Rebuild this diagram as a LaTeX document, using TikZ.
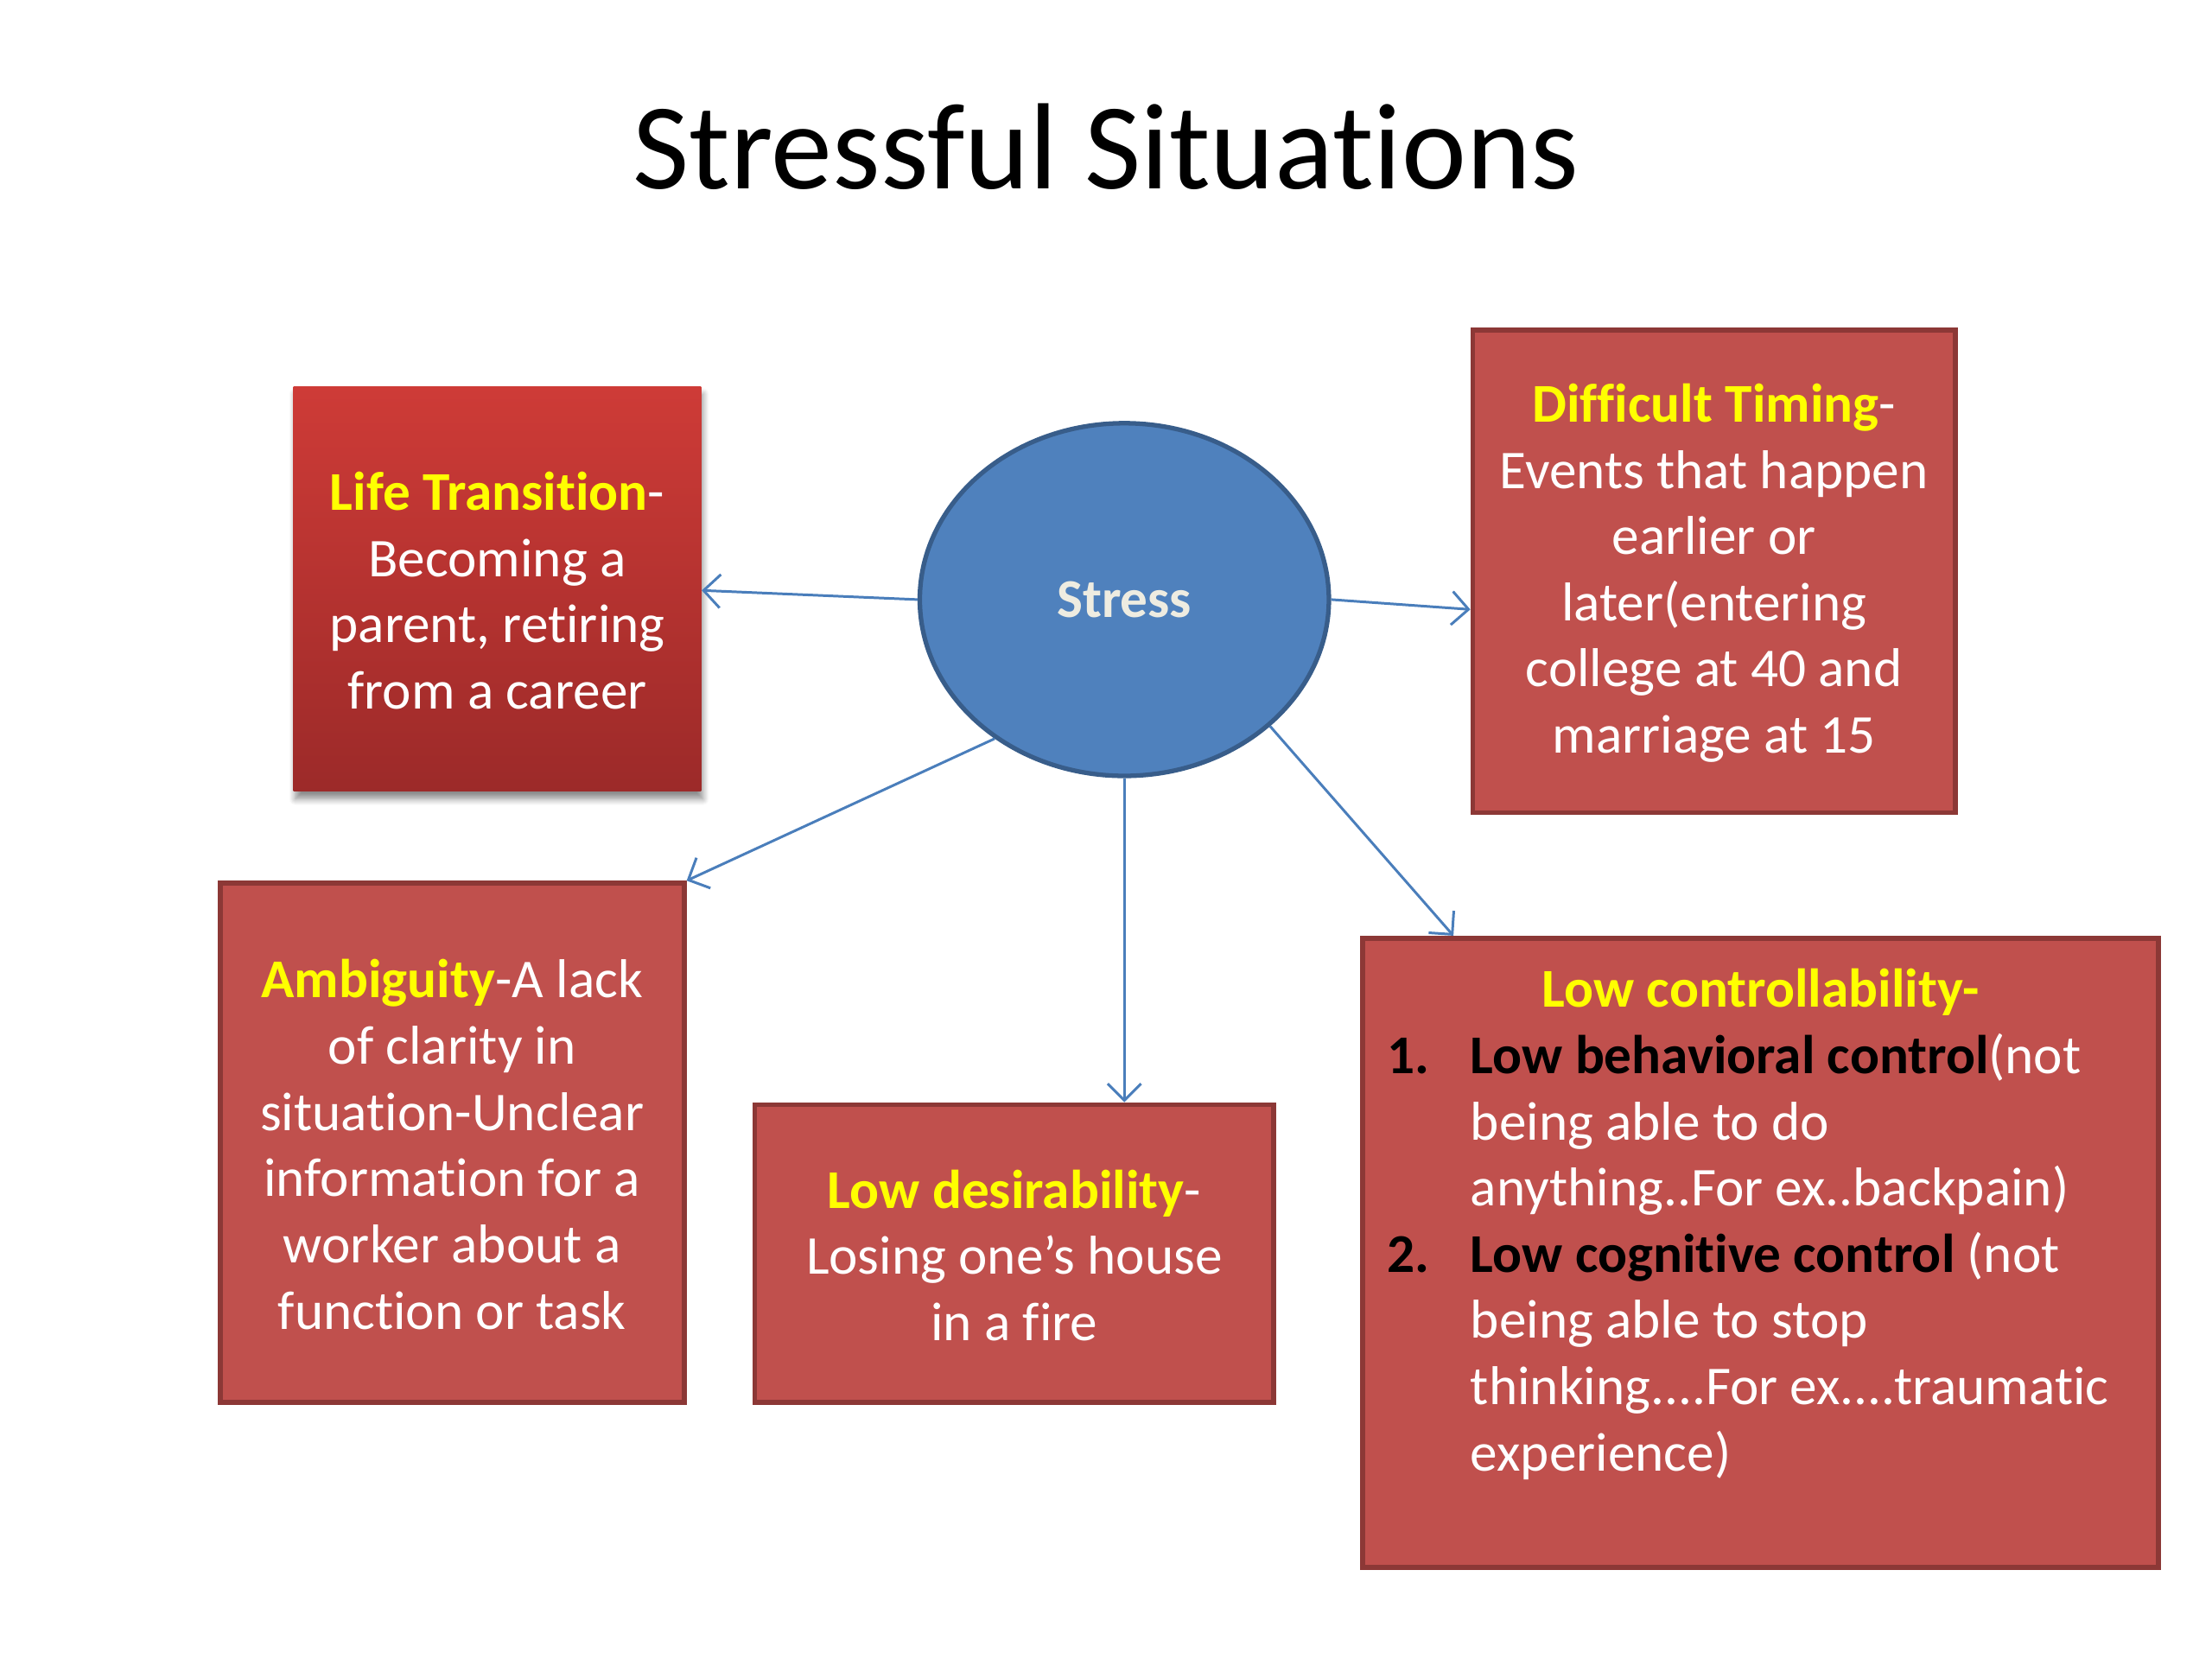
\documentclass[tikz,border=0pt]{standalone}
\usepackage{fontspec}
\setmainfont[Ligatures=NoCommon]{Carlito}
\usetikzlibrary{arrows.meta,shapes.geometric,shadows.blur}
\newlength\pxu
\setlength\pxu{0.016327cm}
\definecolor{boxfill}{HTML}{C0504D}
\definecolor{boxline}{HTML}{8C3836}
\definecolor{ltop}{HTML}{CE3B37}
\definecolor{lbot}{HTML}{9C2A29}
\definecolor{ellfill}{HTML}{4F81BD}
\definecolor{ellline}{HTML}{385D8A}
\definecolor{arrcol}{HTML}{4A7EBB}
\definecolor{stresstxt}{HTML}{EEECE1}
\definecolor{ttl}{HTML}{FFFF00}
\newcommand{\yb}[1]{\rule{0pt}{13.8pt}\textbf{\textcolor{ttl}{#1}}}
\tikzset{
  redbox/.style={rectangle, fill=boxfill, draw=boxline, line width=1.6pt,
    inner sep=0pt, text=white, align=center,
    font=\fontsize{18}{21.8}\selectfont},
  gradbox/.style={rectangle, top color=ltop, bottom color=lbot,
    inner sep=0pt, text=white, align=center,
    font=\fontsize{18}{21.8}\selectfont,
    blur shadow={shadow xshift=0.6pt, shadow yshift=-2.5pt, shadow blur steps=8,
      shadow blur radius=2pt, shadow opacity=45}},
  stressell/.style={ellipse, fill=ellfill, draw=ellline, line width=1.5pt,
    inner sep=0pt, text=stresstxt, font=\fontsize{18}{21.8}\selectfont\bfseries},
  arr/.style={draw=arrcol, line width=0.85pt, -{Straight Barb[length=5.5pt,width=11pt]}},
  plaintext/.style={inner sep=0pt, font=\fontsize{18}{21.8}\selectfont}
}
\begin{document}
\begin{tikzpicture}[x=\pxu, y=-\pxu]
\useasboundingbox (0,0) rectangle (1568,1176);

\node[inner sep=0pt, font=\fontsize{40.4}{48}\selectfont] (title) at (784,104) {Stressful Situations};

\node[stressell, minimum width=290\pxu, minimum height=250\pxu] (st) at (797,425) {Stress};

\node[gradbox, minimum width=289\pxu, minimum height=287\pxu] (lt) at (352.5,417.5)
  {\yb{Life Transition}-\\Becoming a\\parent, retiring\\from a career};

\node[redbox, minimum width=342\pxu, minimum height=342\pxu] (dt) at (1215,405)
  {\yb{Difficult Timing}-\\Events that happen\\earlier or\\later(entering\\college at 40 and\\marriage at 15};

\node[redbox, minimum width=329\pxu, minimum height=368\pxu] (am) at (320.5,810)
  {\yb{Ambiguity}-A lack\\of clarity in\\situation-Unclear\\information for a\\worker about a\\function or task};

\node[redbox, minimum width=368\pxu, minimum height=211\pxu] (ld) at (719,888.5)
  {\yb{Low desirability}-\\Losing one’s house\\in a fire};

\node[redbox, minimum width=564\pxu, minimum height=446\pxu] (lc) at (1248,888) {};

\node[plaintext, text=ttl, font=\fontsize{18}{21.8}\selectfont\bfseries] (lct) at (1248,703.5) {Low controllability-};
\node[plaintext, anchor=base west, text=white] (lcl) at (983,761)
  {\begin{tabular}[t]{@{}p{59\pxu}@{}l@{}}
  \textcolor{black}{\textbf{1.}} & \textcolor{black}{\textbf{Low behavioral control}}(not\\
   & being able to do\\
   & anything..For ex..backpain)\\
  \textcolor{black}{\textbf{2.}} & \textcolor{black}{\textbf{Low cognitive control}} (not\\
   & being able to stop\\
   & thinking....For ex....traumatic\\
   & experience)
  \end{tabular}};

\draw[arr] (st.west) -- ([yshift=-1\pxu]lt.east);
\draw[arr] (st.east) -- ([yshift=-27\pxu]dt.west);
\draw[arr] (st.227) -- (am.north east);
\draw[arr] (st.south) -- (st.south |- ld.north);
\draw[arr] (st.-41) -- ([xshift=66\pxu]lc.north west);
\end{tikzpicture}
\end{document}
